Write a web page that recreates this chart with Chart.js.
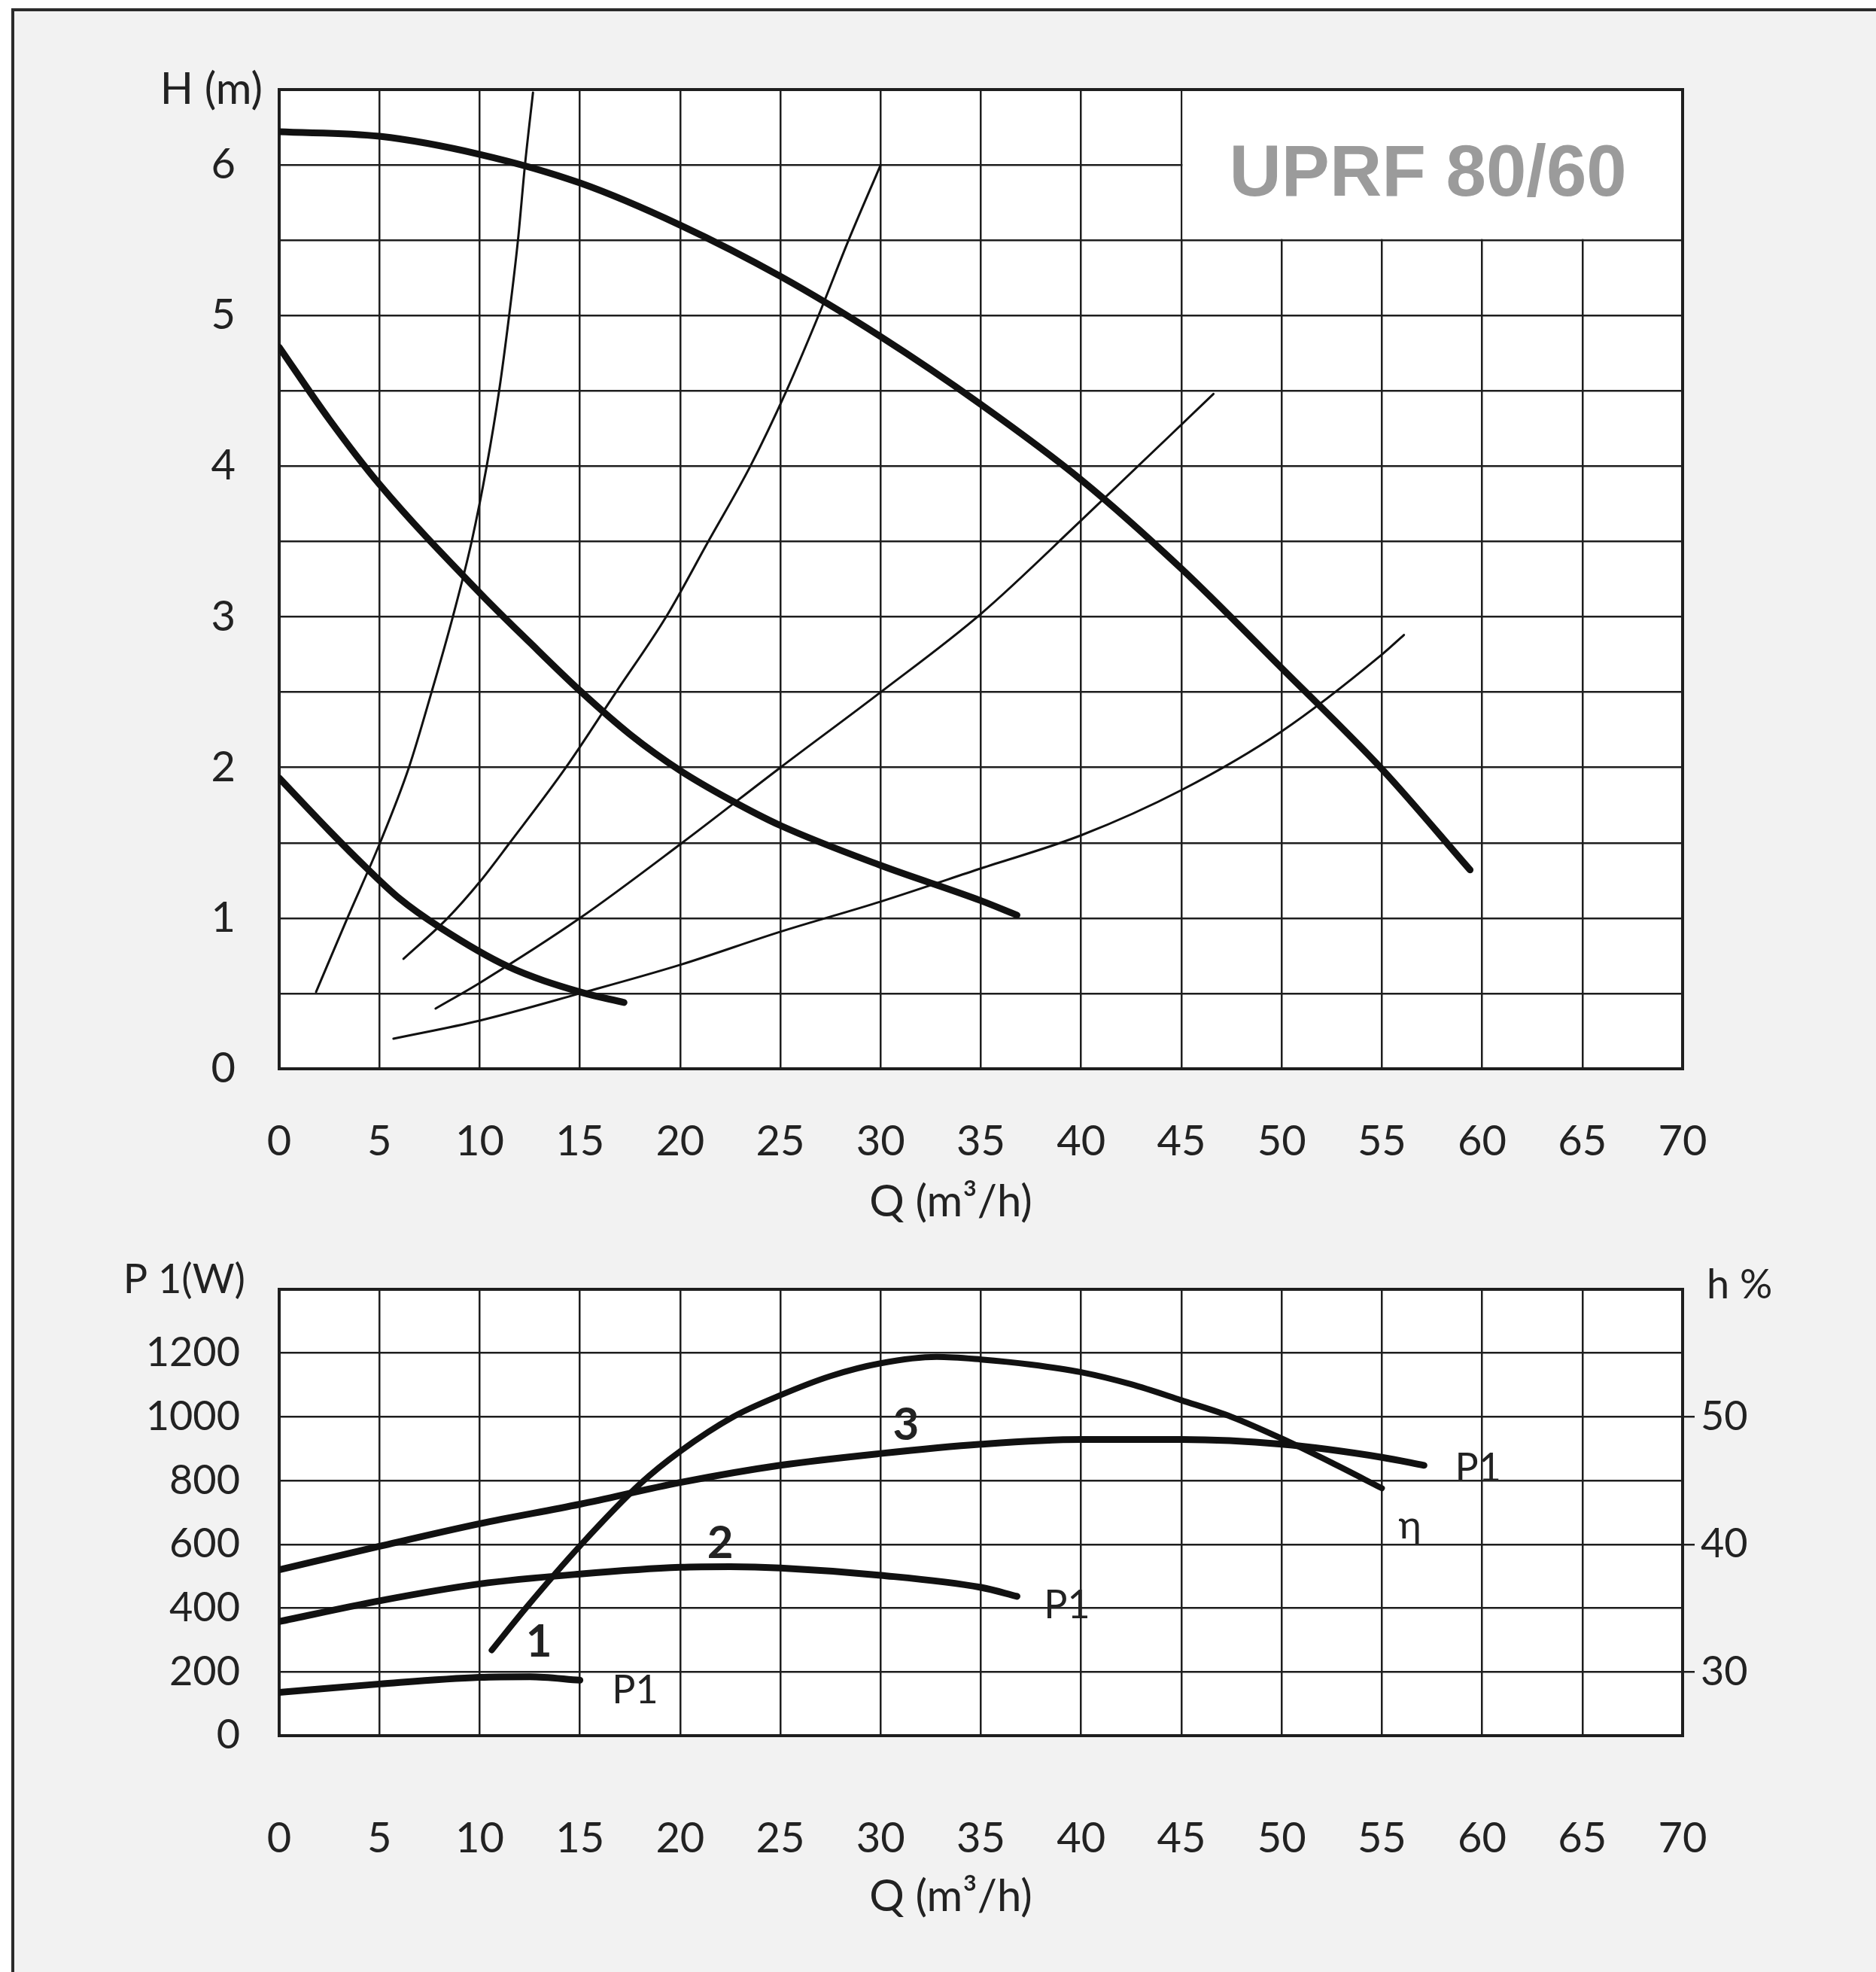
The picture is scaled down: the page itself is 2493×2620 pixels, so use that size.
<!DOCTYPE html>
<html>
<head>
<meta charset="utf-8">
<title>UPRF 80/60</title>
<script src="https://cdn.jsdelivr.net/npm/chart.js@4.4.1/dist/chart.umd.min.js"></script>
<style>
  html, body { margin: 0; padding: 0; background: #fff; width: 2493px; height: 2620px; overflow: hidden; }
  #frame {
    position: absolute; left: 15px; top: 11px; width: 2600px; height: 2700px;
    background: #f2f2f2; border-top: 4px solid #2b2b2b; border-left: 4px solid #2b2b2b;
  }
  canvas { position: absolute; left: 0; }
  #headChart { top: 0; }
  #powerChart { top: 1660px; }
</style>
</head>
<body>
<div id="frame"></div>
<canvas id="headChart" width="2493" height="1660" style="width:2493px;height:1660px"></canvas>
<canvas id="powerChart" width="2493" height="960" style="width:2493px;height:960px"></canvas>
<script>
// tick labels
const qTicks = [0, 5, 10, 15, 20, 25, 30, 35, 40, 45, 50, 55, 60, 65, 70];
const hTicks = [0, 1, 2, 3, 4, 5, 6];
const pTicks = [0, 200, 400, 600, 800, 1000, 1200];
const etaTicks = [30, 40, 50];

// Q-H, speeds 3 / 2 / 1 (thick)
const qSpeed3 = [0, 5, 10, 15, 20, 25, 30, 35, 40, 45, 50, 55, 59.4];
const hSpeed3 = [6.22, 6.19, 6.07, 5.88, 5.60, 5.26, 4.86, 4.41, 3.91, 3.32, 2.66, 1.99, 1.32];
const qSpeed2 = [0, 2.5, 5, 10, 12.5, 15, 17.5, 20, 22.5, 25, 30, 35, 36.8];
const hSpeed2 = [4.79, 4.31, 3.88, 3.16, 2.83, 2.51, 2.22, 1.98, 1.785, 1.615, 1.35, 1.116, 1.02];
const qSpeed1 = [0, 2.5, 4.3, 6, 8, 11.4, 15, 17.2];
const hSpeed1 = [1.93, 1.58, 1.34, 1.13, 0.94, 0.68, 0.51, 0.44];

// system curves (thin)
const qPipeA = [1.84, 3.4, 5.03, 6.47, 7.6, 8.66, 9.6, 10.35, 10.97, 11.47, 11.91, 12.26, 12.66];
const hPipeA = [0.51, 1, 1.5, 2, 2.5, 3, 3.5, 4, 4.5, 5, 5.5, 6, 6.48];
const qPipeB = [6.2, 8.4, 10, 11.5, 14.3, 16.8, 19.3, 21.4, 23.5, 25.3, 26.9, 28.4, 30.0];
const hPipeB = [0.73, 1, 1.24, 1.5, 2, 2.5, 3, 3.5, 4, 4.5, 5, 5.5, 6];
const qPipeC = [7.8, 10, 15, 20.1, 25, 30, 35, 40, 46.6];
const hPipeC = [0.40, 0.57, 1.0, 1.5, 2.0, 2.5, 3.02, 3.64, 4.48];
const qPipeD = [5.7, 10, 15, 20, 25, 30, 35, 40, 45, 50, 55, 56.1];
const hPipeD = [0.2, 0.32, 0.5, 0.69, 0.91, 1.11, 1.33, 1.55, 1.85, 2.24, 2.75, 2.88];

// P1 (W) per speed, efficiency (%)
const qPower3 = [0, 5, 10, 15, 20, 25, 30, 35, 40, 45, 50, 55, 57.1];
const power3 = [520, 594, 665, 726, 794, 848, 885, 914, 929, 929, 914, 873, 848];
const qPower2 = [0, 5, 10, 15, 20, 22.5, 25, 30, 35, 36.8];
const power2 = [358, 423, 476, 507, 528, 530, 526, 503, 465, 437];
const qPower1 = [0, 5, 10, 12.5, 15];
const power1 = [136, 162, 183, 185, 174];
const qEta = [10.6, 12.3, 15.07, 18.04, 20, 22.64, 25, 27.5, 30, 32.8, 35, 37.5, 40, 42.5, 45, 47.5, 50, 52.5, 55];
const eta = [31.7, 35, 40, 44.8, 47.3, 50, 51.7, 53.2, 54.2, 54.7, 54.5, 54.1, 53.5, 52.55, 51.3, 50.0, 48.3, 46.4, 44.4];

// text marks in the power chart, in data units
const powerNotes = [
  { text: "1", q: 12.95, p: 293, bold: true },
  { text: "2", q: 22.0, p: 603, bold: true },
  { text: "3", q: 31.26, p: 973, bold: true },
  { text: "P1", q: 17.75, p: 141 },
  { text: "P1", q: 39.3, p: 409 },
  { text: "P1", q: 59.8, p: 837 },
  { text: "η", q: 56.4, p: 659 }
];

const FONT = "Lato, 'Open Sans', sans-serif";
const INK = "#222";
const GRID = "#1e1e1e";
const Q_TITLE = "Q (m³/h)";

function toPoints(xs, ys) {
  return xs.map((x, i) => ({ x: x, y: ys[i] }));
}

function curve(xs, ys, width, axis) {
  return {
    data: toPoints(xs, ys),
    borderColor: "#111",
    borderWidth: width,
    borderCapStyle: "round",
    pointRadius: 0,
    cubicInterpolationMode: "monotone",
    fill: false,
    yAxisID: axis || "y"
  };
}

// fixed axis boxes so both plots line up with the reference
function fixWidth(w) {
  return scale => { scale.width = w; scale.paddingTop = 0; scale.paddingBottom = 0; };
}
function fixHeight(h) {
  return scale => { scale.height = h; scale.paddingLeft = 0; scale.paddingRight = 0; };
}

// white plot background, thick frame, Q title; optional extra drawing
function framePlugin(titleOffset, drawExtra) {
  return {
    id: "frame",
    beforeDraw(chart) {
      const { ctx, chartArea: a } = chart;
      ctx.save();
      ctx.fillStyle = "#fff";
      ctx.fillRect(a.left, a.top, a.width, a.height);
      ctx.restore();
    },
    beforeDatasetsDraw(chart) {
      const { ctx, chartArea: a, scales } = chart;
      ctx.save();
      if (drawExtra) drawExtra(chart);
      ctx.strokeStyle = GRID;
      ctx.lineWidth = 4;
      ctx.strokeRect(a.left, a.top, a.width, a.height);
      ctx.fillStyle = INK;
      ctx.font = "58px " + FONT;
      ctx.textAlign = "center";
      ctx.textBaseline = "middle";
      ctx.fillText(Q_TITLE, scales.x.getPixelForValue(33.5), a.bottom + titleOffset);
      ctx.restore();
    }
  };
}

function xAxis(tickPad, height) {
  return {
    type: "linear",
    min: 0,
    max: 70,
    afterFit: fixHeight(height),
    grid: { color: GRID, lineWidth: 2.5, drawTicks: false },
    border: { display: false },
    ticks: {
      stepSize: 5,
      autoSkip: false,
      maxRotation: 0,
      padding: tickPad,
      color: INK,
      font: { family: FONT, size: 56 },
      callback: v => (qTicks.includes(v) ? String(v) : "")
    }
  };
}

// ---- top: Q-H ----
const headChart = new Chart(document.getElementById("headChart"), {
  type: "line",
  data: {
    datasets: [
      curve(qPipeA, hPipeA, 3),
      curve(qPipeB, hPipeB, 3),
      curve(qPipeC, hPipeC, 3),
      curve(qPipeD, hPipeD, 3),
      curve(qSpeed3, hSpeed3, 9),
      curve(qSpeed2, hSpeed2, 9),
      curve(qSpeed1, hSpeed1, 9)
    ]
  },
  options: {
    responsive: false,
    devicePixelRatio: 1,
    animation: false,
    layout: { padding: { top: 119, right: 257, left: 0, bottom: 0 } },
    scales: {
      x: xAxis(63, 240),
      y: {
        type: "linear",
        min: 0,
        max: 6.5,
        afterFit: fixWidth(371),
        grid: { color: GRID, lineWidth: 2.5, drawTicks: false },
        border: { display: false },
        ticks: {
          stepSize: 0.5,
          padding: 58,
          color: INK,
          font: { family: FONT, size: 56 },
          callback: v => (hTicks.includes(v) ? String(v) : "")
        }
      }
    },
    plugins: { legend: { display: false }, tooltip: { enabled: false } }
  },
  plugins: [framePlugin(177, chart => {
    const { ctx, chartArea: a, scales } = chart;
    const left = scales.x.getPixelForValue(45) + 1.5;
    const bottom = scales.y.getPixelForValue(5.5) - 1.5;
    ctx.fillStyle = "#fff";
    ctx.fillRect(left, a.top, a.right - left, bottom - a.top);
    ctx.fillStyle = "#9b9b9b";
    ctx.font = "bold 96px 'Liberation Sans', Arial, sans-serif";
    ctx.textAlign = "center";
    ctx.textBaseline = "middle";
    ctx.fillText("UPRF 80/60", scales.x.getPixelForValue(57.3), scales.y.getPixelForValue(5.93));
    ctx.fillStyle = INK;
    ctx.font = "58px " + FONT;
    ctx.textAlign = "right";
    ctx.fillText("H (m)", a.left - 22, a.top);
  })]
});

// ---- bottom: P1 and efficiency ----
const powerChart = new Chart(document.getElementById("powerChart"), {
  type: "line",
  data: {
    datasets: [
      curve(qPower3, power3, 9),
      curve(qPower2, power2, 9),
      curve(qPower1, power1, 9),
      curve(qEta, eta, 8, "y2")
    ]
  },
  options: {
    responsive: false,
    devicePixelRatio: 1,
    animation: false,
    layout: { padding: { top: 53, right: 0, left: 0, bottom: 0 } },
    scales: {
      x: xAxis(103, 314),
      y: {
        type: "linear",
        position: "left",
        min: 0,
        max: 1400,
        afterFit: fixWidth(371),
        grid: { color: GRID, lineWidth: 2.5, drawTicks: false },
        border: { display: false },
        ticks: {
          stepSize: 200,
          padding: 52,
          color: INK,
          font: { family: FONT, size: 54 },
          callback: v => (pTicks.includes(v) ? String(v) : "")
        }
      },
      y2: {
        type: "linear",
        position: "right",
        min: 25,
        max: 60,
        afterFit: fixWidth(257),
        afterBuildTicks: axis => { axis.ticks = etaTicks.map(v => ({ value: v })); },
        grid: { drawOnChartArea: false, drawTicks: true, tickLength: 16, color: GRID, lineWidth: 2.5 },
        border: { display: false },
        ticks: {
          padding: 8,
          color: INK,
          font: { family: FONT, size: 54 }
        }
      }
    },
    plugins: { legend: { display: false }, tooltip: { enabled: false } }
  },
  plugins: [framePlugin(214), {
    id: "notes",
    afterDatasetsDraw(chart) {
      const { ctx, chartArea: a, scales } = chart;
      ctx.save();
      ctx.fillStyle = INK;
      ctx.textAlign = "center";
      ctx.textBaseline = "middle";
      powerNotes.forEach(n => {
        ctx.font = (n.bold ? "bold 60px " : "52px ") + FONT;
        ctx.fillText(n.text, scales.x.getPixelForValue(n.q), scales.y.getPixelForValue(n.p));
      });
      ctx.font = "54px " + FONT;
      ctx.textAlign = "right";
      ctx.fillText("P 1(W)", a.left - 45, a.top - 12);
      ctx.textAlign = "left";
      ctx.fillText("h %", a.right + 32, a.top - 5);
      ctx.restore();
    }
  }]
});
</script>
</body>
</html>
